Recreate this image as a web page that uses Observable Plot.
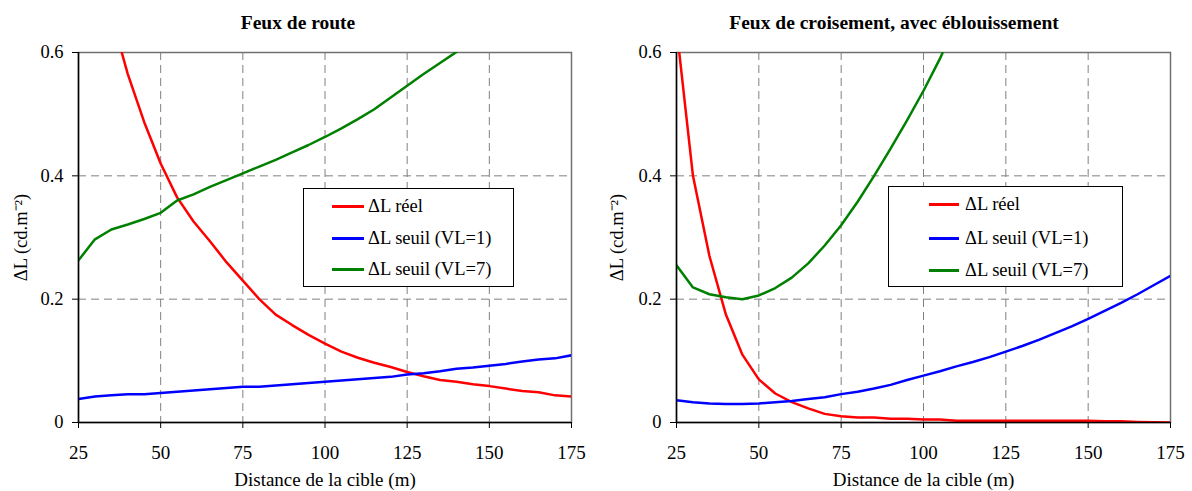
<!DOCTYPE html>
<html>
<head>
<meta charset="utf-8">
<script src="https://cdn.jsdelivr.net/npm/d3@7"></script>
<script src="https://cdn.jsdelivr.net/npm/@observablehq/plot@0.6"></script>
<style>
  html, body { margin: 0; padding: 0; background: #fff; }
  #wrap { position: relative; width: 1192px; height: 491px; font-family: "Liberation Serif", "Times New Roman", serif; color: #000; }
  .panel { position: absolute; top: 0; width: 596px; height: 491px; }
  .title { position: absolute; top: 13px; left: 0; width: 596px; text-align: center; font-weight: bold; font-size: 19.5px; line-height: 1; }
  .legend { position: absolute; border: 1px solid #000; background: #fff; box-sizing: border-box; }
  .legend .row { position: absolute; left: 0; height: 20px; font-size: 18.5px; line-height: 20px; white-space: nowrap; }
  .legend .sw { position: absolute; top: 9px; height: 3px; }
  .legend .lab { position: absolute; top: 0; }
</style>
</head>
<body>
<div id="wrap"></div>
<script>
const distance = [25, 30, 35, 40, 45, 50, 55, 60, 65, 70, 75, 80, 85, 90, 95, 100, 105, 110, 115, 120, 125, 130, 135, 140, 145, 150, 155, 160, 165, 170, 175];

// Feux de route
const routeReel = [null, null, 0.66, 0.565, 0.487, 0.42, 0.365, 0.326, 0.294, 0.26, 0.23, 0.2, 0.175, 0.158, 0.142, 0.128, 0.115, 0.105, 0.097, 0.09, 0.082, 0.075, 0.069, 0.066, 0.062, 0.059, 0.055, 0.051, 0.049, 0.044, 0.042];
const routeSeuil1 = [0.038, 0.042, 0.044, 0.046, 0.046, 0.048, 0.05, 0.052, 0.054, 0.056, 0.058, 0.058, 0.06, 0.062, 0.064, 0.066, 0.068, 0.07, 0.072, 0.074, 0.078, 0.08, 0.083, 0.087, 0.089, 0.092, 0.095, 0.099, 0.102, 0.104, 0.109];
const routeSeuil7 = [0.263, 0.297, 0.313, 0.321, 0.33, 0.34, 0.36, 0.37, 0.382, 0.393, 0.404, 0.415, 0.426, 0.438, 0.45, 0.463, 0.477, 0.492, 0.508, 0.527, 0.546, 0.565, 0.583, 0.601, 0.62, null, null, null, null, null, null];

// Feux de croisement, avec éblouissement
const croisReel = [0.64, 0.40, 0.27, 0.175, 0.11, 0.07, 0.047, 0.033, 0.023, 0.014, 0.01, 0.008, 0.008, 0.006, 0.006, 0.005, 0.005, 0.003, 0.003, 0.003, 0.003, 0.003, 0.003, 0.003, 0.003, 0.003, 0.002, 0.002, 0.001, 0.0005, 0];
const croisSeuil1 = [0.036, 0.033, 0.031, 0.03, 0.03, 0.031, 0.033, 0.035, 0.038, 0.041, 0.046, 0.05, 0.055, 0.061, 0.069, 0.076, 0.083, 0.091, 0.098, 0.106, 0.115, 0.124, 0.134, 0.145, 0.156, 0.168, 0.181, 0.194, 0.208, 0.223, 0.238];
const croisSeuil7 = [0.255, 0.219, 0.208, 0.203, 0.2, 0.206, 0.218, 0.235, 0.258, 0.287, 0.32, 0.358, 0.4, 0.444, 0.49, 0.538, 0.59, 0.65, null, null, null, null, null, null, null, null, null, null, null, null, null];

const seriesNames = ["\u0394L réel", "\u0394L seuil (VL=1)", "\u0394L seuil (VL=7)"];
const seriesColors = ["#ff0000", "#0000ff", "#008000"];
const titles = ["Feux de route", "Feux de croisement, avec éblouissement"];
const xTicks = [25, 50, 75, 100, 125, 150, 175];
const yTicks = [0, 0.2, 0.4, 0.6];
const xLabel = "Distance de la cible (m)";
const yLabel = "\u0394L (cd.m\u207B\u00B2)";

function rows(seriesList) {
  const out = [];
  seriesList.forEach((vals, si) => {
    distance.forEach((d, i) => {
      if (vals[i] !== null) out.push({series: seriesNames[si], x: d, y: vals[i]});
    });
  });
  return out;
}

function makePanel(data, title, margins, legendBox) {
  const xmax = xTicks[xTicks.length - 1], xmin = xTicks[0];
  const ymax = yTicks[yTicks.length - 1], ymin = yTicks[0];
  const chart = Plot.plot({
    width: 596,
    height: 491,
    marginLeft: margins.left,
    marginRight: margins.right,
    marginTop: 52,
    marginBottom: 69,
    style: {fontFamily: "Liberation Serif, Times New Roman, serif", fontSize: "18.5px", color: "#000", background: "transparent"},
    x: {domain: [xmin, xmax], ticks: xTicks},
    y: {domain: [ymin, ymax], ticks: yTicks},
    color: {domain: seriesNames, range: seriesColors},
    marks: [
      Plot.gridX(xTicks.slice(1, -1), {stroke: "#808080", strokeOpacity: 1, strokeWidth: 1, strokeDasharray: "8,5"}),
      Plot.gridY(yTicks.slice(1, -1), {stroke: "#808080", strokeOpacity: 1, strokeWidth: 1, strokeDasharray: "8,5"}),
      Plot.frame({stroke: "#707070", strokeWidth: 1.5}),
      Plot.line(data, {x: "x", y: "y", z: "series", stroke: "series", strokeWidth: 2.5, clip: true}),
      Plot.ruleX([xmin], {stroke: "#000", strokeWidth: 1.5}),
      Plot.ruleY([ymin], {stroke: "#000", strokeWidth: 1.5}),
      Plot.axisX(xTicks, {tickSize: 6, tickPadding: 17, tickFormat: d => String(d), label: xLabel, labelAnchor: "center", labelArrow: "none", labelOffset: 63, fontSize: "19px"}),
      Plot.axisY(yTicks, {tickSize: 6, tickPadding: 9, tickFormat: d => d === 0 ? "0" : d.toFixed(1), label: yLabel, labelAnchor: "center", labelArrow: "none", labelOffset: margins.left - 13, fontSize: "18.5px"})
    ]
  });
  const panel = document.createElement("div");
  panel.className = "panel";
  panel.style.left = margins.offset + "px";
  panel.appendChild(chart);
  const t = document.createElement("div");
  t.className = "title";
  t.textContent = title;
  panel.appendChild(t);
  const lg = document.createElement("div");
  lg.className = "legend";
  lg.style.left = legendBox.left + "px";
  lg.style.top = legendBox.top + "px";
  lg.style.width = legendBox.width + "px";
  lg.style.height = legendBox.height + "px";
  seriesNames.forEach((name, i) => {
    const r = document.createElement("div");
    r.className = "row";
    r.style.top = legendBox.rows[i] + "px";
    const sw = document.createElement("div");
    sw.className = "sw";
    sw.style.left = legendBox.swLeft + "px";
    sw.style.width = legendBox.swWidth + "px";
    sw.style.background = seriesColors[i];
    const lab = document.createElement("div");
    lab.className = "lab";
    lab.style.left = legendBox.textLeft + "px";
    lab.textContent = name;
    r.appendChild(sw);
    r.appendChild(lab);
    lg.appendChild(r);
  });
  panel.appendChild(lg);
  return panel;
}

const wrap = document.getElementById("wrap");
wrap.appendChild(makePanel(rows([routeReel, routeSeuil1, routeSeuil7]), titles[0],
  {left: 78, right: 25, offset: 0},
  {left: 303, top: 188, width: 211, height: 99, rows: [7, 39, 70], swLeft: 28, swWidth: 32, textLeft: 64}));
wrap.appendChild(makePanel(rows([croisReel, croisSeuil1, croisSeuil7]), titles[1],
  {left: 80, right: 22, offset: 596},
  {left: 292, top: 186, width: 235, height: 101, rows: [7, 41, 73], swLeft: 40, swWidth: 30, textLeft: 76}));
</script>
</body>
</html>
